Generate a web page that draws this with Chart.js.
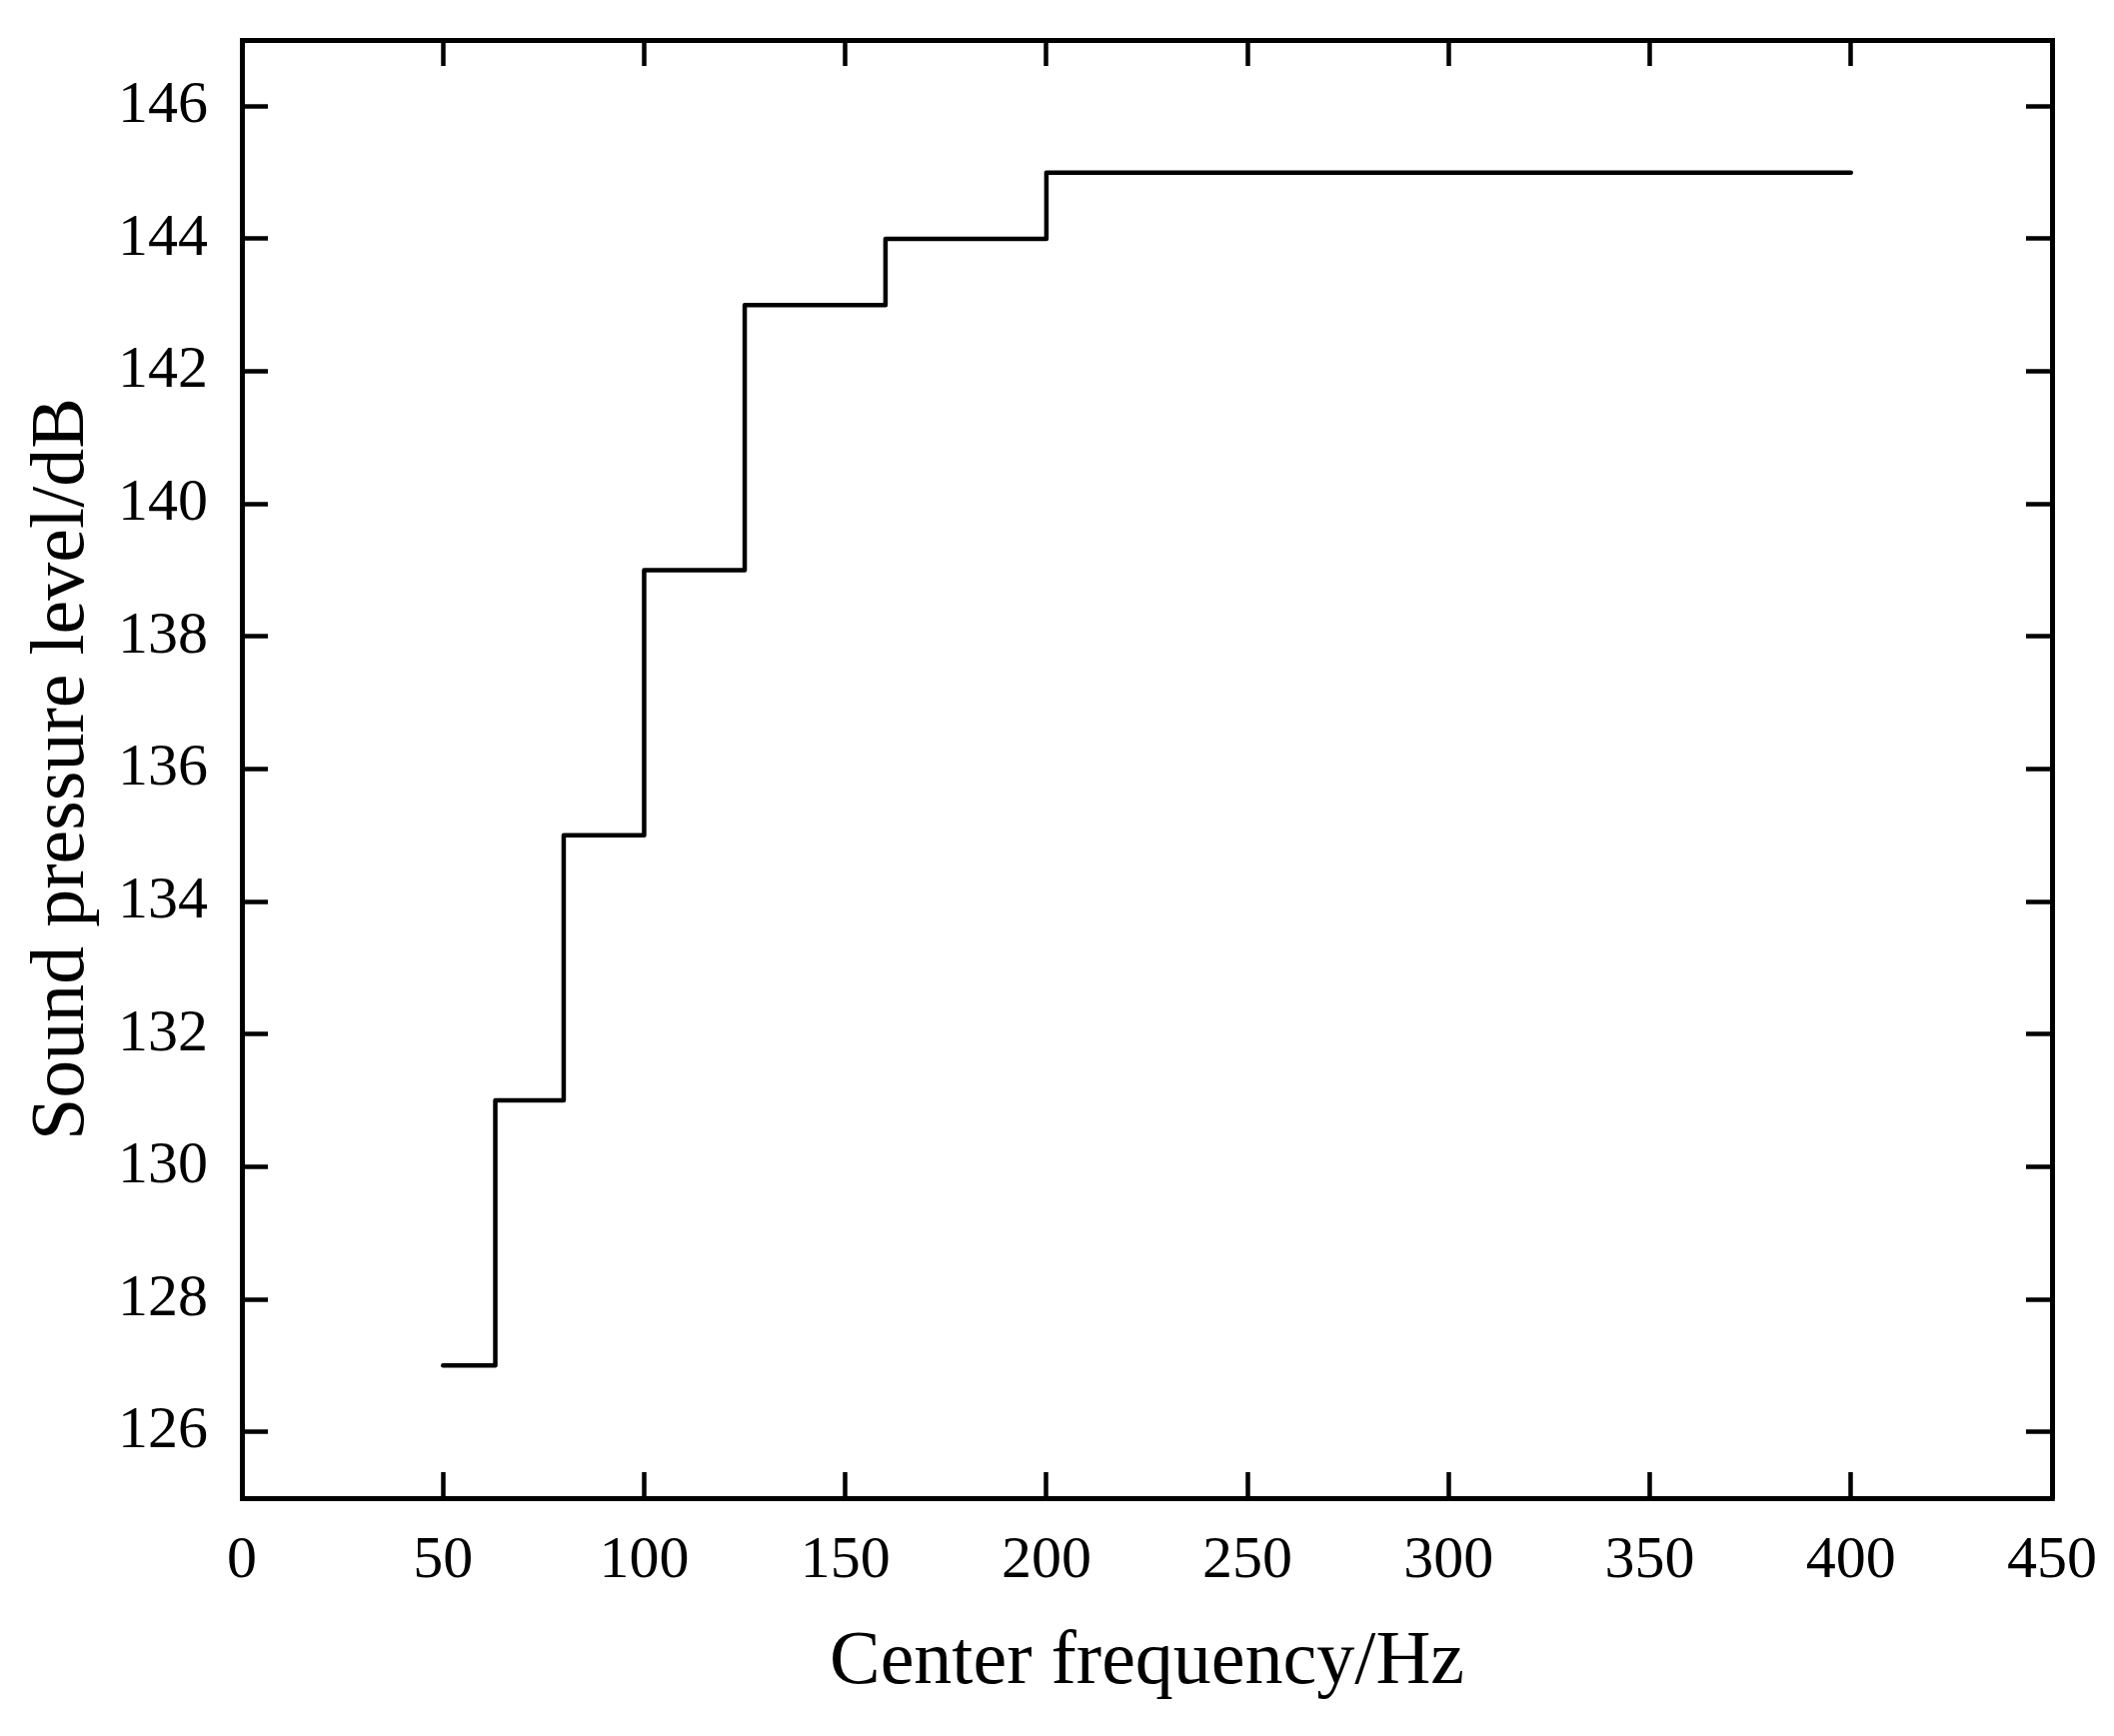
<!DOCTYPE html>
<html>
<head>
<meta charset="utf-8">
<script src="https://cdn.jsdelivr.net/npm/chart.js@4/dist/chart.umd.min.js"></script>
<style>
  html, body { margin: 0; padding: 0; background: #ffffff; }
  canvas { display: block; }
</style>
</head>
<body>
<canvas id="c" width="2115" height="1737"></canvas>
<script>
// ---- data ----
const centerFrequencies = [50, 63, 80, 100, 125, 160, 200, 400];
const soundPressureLevels = [127, 131, 135, 139, 143, 144, 145, 145];
const xTickValues = [0, 50, 100, 150, 200, 250, 300, 350, 400, 450];
const yTickValues = [126, 128, 130, 132, 134, 136, 138, 140, 142, 144, 146];
const xTitle = 'Center frequency/Hz';
const yTitle = 'Sound pressure level/dB';

const FONT = "'Liberation Serif', 'Times New Roman', serif";
const points = centerFrequencies.map((f, i) => ({ x: f, y: soundPressureLevels[i] }));

function gridOpts() {
  return {
    display: true,
    drawOnChartArea: false,
    drawTicks: true,
    tickLength: -26,
    tickWidth: 4.5,
    tickColor: '#000',
    color: '#000'
  };
}
const borderOpts = { display: true, color: '#000', width: 5 };
const setX = s => { s.ticks = xTickValues.map(v => ({ value: v })); };
const setY = s => { s.ticks = yTickValues.map(v => ({ value: v })); };
function fixSize(w, h) {
  return s => {
    if (w !== null) s.width = w;
    if (h !== null) s.height = h;
    s.paddingLeft = 0; s.paddingRight = 0; s.paddingTop = 0; s.paddingBottom = 0;
  };
}

new Chart(document.getElementById('c'), {
  type: 'line',
  data: {
    datasets: [{
      data: points,
      stepped: 'before',
      borderColor: '#000',
      borderWidth: 4.5,
      borderCapStyle: 'round',
      borderJoinStyle: 'round',
      pointRadius: 0,
      fill: false
    }]
  },
  options: {
    responsive: false,
    animation: false,
    layout: { padding: 0 },
    plugins: { legend: { display: false }, tooltip: { enabled: false } },
    scales: {
      x: {
        type: 'linear', position: 'bottom', min: 0, max: 450,
        afterBuildTicks: setX,
        afterFit: fixSize(null, 238),
        grid: gridOpts(), border: borderOpts,
        ticks: { color: '#000', padding: 59, maxRotation: 0, font: { family: FONT, size: 60, lineHeight: 1 } },
        title: { display: true, text: xTitle, color: '#000', padding: { top: 0, bottom: 35 },
                 font: { family: FONT, size: 76, lineHeight: 1 } }
      },
      x2: {
        type: 'linear', position: 'top', min: 0, max: 450,
        afterBuildTicks: setX,
        afterFit: fixSize(null, 40),
        grid: gridOpts(), border: borderOpts,
        ticks: { display: false }
      },
      y: {
        type: 'linear', position: 'left', min: 125, max: 147,
        afterBuildTicks: setY,
        afterFit: fixSize(242, null),
        grid: gridOpts(), border: borderOpts,
        ticks: { color: '#000', padding: 60, font: { family: FONT, size: 60, lineHeight: 1 } },
        title: { display: true, text: yTitle, color: '#000', padding: { top: 25, bottom: 0 },
                 font: { family: FONT, size: 76, lineHeight: 1 } }
      },
      y2: {
        type: 'linear', position: 'right', min: 125, max: 147,
        afterBuildTicks: setY,
        afterFit: fixSize(62, null),
        grid: gridOpts(), border: borderOpts,
        ticks: { display: false }
      }
    }
  }
});
</script>
</body>
</html>
